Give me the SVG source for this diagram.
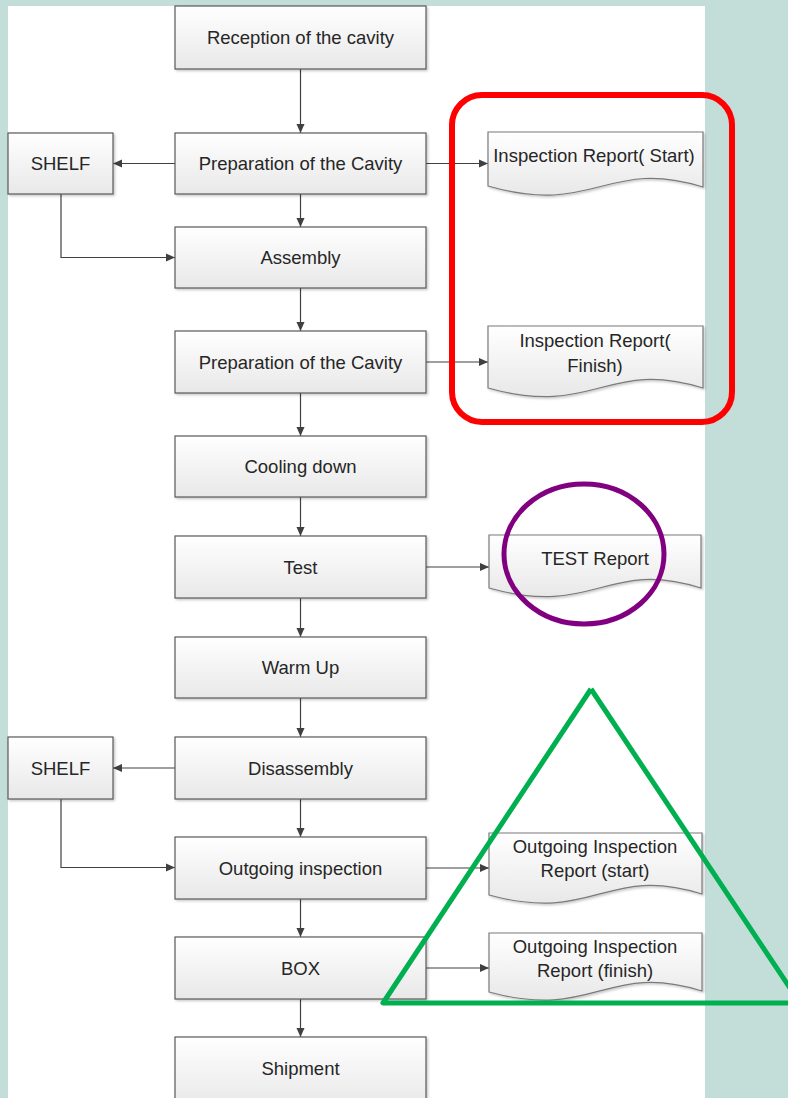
<svg xmlns="http://www.w3.org/2000/svg" width="788" height="1098" viewBox="0 0 788 1098">
<style>
.box{fill:url(#g);stroke:#595959;stroke-width:1.2;filter:url(#sh)}
.doc{fill:url(#g);stroke:#7a7a7a;stroke-width:1.2;filter:url(#sh)}
.t{font-family:"Liberation Sans",Arial,sans-serif;font-size:18.5px;fill:#262626;text-anchor:middle}
.c{fill:none;stroke:#404040;stroke-width:1.2;marker-end:url(#ah)}
</style>
<defs>
<linearGradient id="g" x1="0" y1="0" x2="0" y2="1">
<stop offset="0" stop-color="#ffffff"/>
<stop offset="1" stop-color="#e8e8e8"/>
</linearGradient>
<filter id="sh" x="-10%" y="-10%" width="130%" height="130%">
<feDropShadow dx="1.5" dy="1.5" stdDeviation="1.2" flood-color="#000" flood-opacity="0.22"/>
</filter>
<marker id="ah" markerUnits="userSpaceOnUse" markerWidth="9" markerHeight="9" viewBox="0 0 10 10" refX="10" refY="5" orient="auto">
<path d="M0,0.5 L10,5 L0,9.5 z" fill="#404040"/>
</marker>
</defs>
<rect x="0" y="0" width="788" height="1098" fill="#c3ddd9"/>
<rect x="8" y="6" width="697" height="1092" fill="#ffffff"/>

<g id="connectors">
<path class="c" d="M300.5,69 V133"/>
<path class="c" d="M175,163.5 H113"/>
<path class="c" d="M426,163.5 H488"/>
<path class="c" d="M300.5,194 V227"/>
<path class="c" d="M61,194 V257.5 H175"/>
<path class="c" d="M300.5,288 V331"/>
<path class="c" d="M426,362 H488"/>
<path class="c" d="M300.5,393 V436"/>
<path class="c" d="M300.5,497 V536"/>
<path class="c" d="M426,567 H489"/>
<path class="c" d="M300.5,598 V637"/>
<path class="c" d="M300.5,698 V737"/>
<path class="c" d="M175,768 H113"/>
<path class="c" d="M300.5,799 V837"/>
<path class="c" d="M61,799 V867.5 H175"/>
<path class="c" d="M426,868 H489"/>
<path class="c" d="M300.5,899 V937"/>
<path class="c" d="M426,968 H489"/>
<path class="c" d="M300.5,999 V1037"/>
</g>

<g id="reception"><rect class="box" x="175" y="6" width="251" height="63"/><text class="t" x="300.5" y="44">Reception of the cavity</text></g>
<g id="prep1"><rect class="box" x="175" y="133" width="251" height="61"/><text class="t" x="300.5" y="170">Preparation of the Cavity</text></g>
<g id="shelf1"><rect class="box" x="8" y="133" width="105" height="61"/><text class="t" x="60.5" y="170">SHELF</text></g>
<g id="assembly"><rect class="box" x="175" y="227" width="251" height="61"/><text class="t" x="300.5" y="264">Assembly</text></g>
<g id="prep2"><rect class="box" x="175" y="331" width="251" height="62"/><text class="t" x="300.5" y="368.5">Preparation of the Cavity</text></g>
<g id="cooling"><rect class="box" x="175" y="436" width="251" height="61"/><text class="t" x="300.5" y="473">Cooling down</text></g>
<g id="test"><rect class="box" x="175" y="536" width="251" height="62"/><text class="t" x="300.5" y="573.5">Test</text></g>
<g id="warmup"><rect class="box" x="175" y="637" width="251" height="61"/><text class="t" x="300.5" y="674">Warm Up</text></g>
<g id="disassembly"><rect class="box" x="175" y="737" width="251" height="62"/><text class="t" x="300.5" y="774.5">Disassembly</text></g>
<g id="shelf2"><rect class="box" x="8" y="737" width="105" height="62"/><text class="t" x="60.5" y="774.5">SHELF</text></g>
<g id="outgoing"><rect class="box" x="175" y="837" width="251" height="62"/><text class="t" x="300.5" y="874.5">Outgoing inspection</text></g>
<g id="box"><rect class="box" x="175" y="937" width="251" height="62"/><text class="t" x="300.5" y="974.5">BOX</text></g>
<g id="shipment"><rect class="box" x="175" y="1037" width="251" height="70"/><text class="t" x="300.5" y="1074.5">Shipment</text></g>

<g id="doc-start"><path class="doc" d="M488,132 H703 V187 C606,157 595,217 488,186 Z"/><text class="t" x="594" y="162">Inspection Report( Start)</text></g>
<g id="doc-finish"><path class="doc" d="M488,326 H703 V388 C606,358 595,418 488,388 Z"/><text class="t" x="595" y="347">Inspection Report(</text><text class="t" x="595" y="372">Finish)</text></g>
<g id="doc-test"><path class="doc" d="M489,535 H701 V588 C606,558 595,618 489,588 Z"/><text class="t" x="595" y="565">TEST Report</text></g>
<g id="doc-out-start"><path class="doc" d="M489,833 H702 V894 C606,864 595,924 489,895 Z"/><text class="t" x="595" y="853">Outgoing Inspection</text><text class="t" x="595" y="877">Report (start)</text></g>
<g id="doc-out-finish"><path class="doc" d="M489,933 H702 V991 C606,961 595,1021 489,992 Z"/><text class="t" x="595" y="953">Outgoing Inspection</text><text class="t" x="595" y="977">Report (finish)</text></g>

<g id="highlights" fill="none">
<rect x="452" y="95" width="280" height="327" rx="30" stroke="#ff0000" stroke-width="6"/>
<ellipse cx="584" cy="554" rx="80" ry="70" stroke="#800080" stroke-width="5"/>
<path d="M591,689 L383,1003 H800" stroke="#00b050" stroke-width="5" stroke-linejoin="round"/>
<path d="M591,689 L800,1003" stroke="#00b050" stroke-width="5"/>
</g>
</svg>
